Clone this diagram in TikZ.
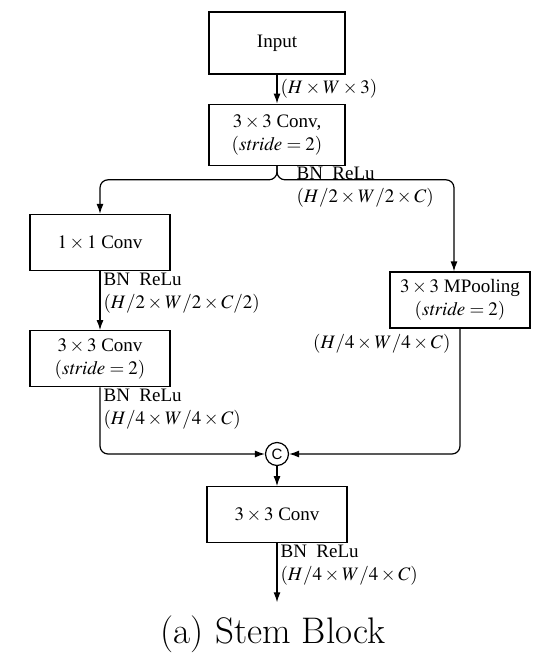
\documentclass[tikz,border=0pt]{standalone}
\usepackage{mathptmx}
\usepackage{fontspec}
\setmainfont{Liberation Serif}
\newfontfamily\capfont{Latin Modern Roman}
\newfontfamily\catfont{Liberation Sans}
\usetikzlibrary{positioning,arrows.meta}

\begin{document}
\begin{tikzpicture}[x=1pt,y=-1pt,line width=1.2pt,
  font=\fontsize{19}{23}\selectfont,
  blk/.style={draw,minimum width=140pt,minimum height=56pt,align=center,inner sep=2pt},
  lbl/.style={align=left,inner sep=1pt},
  arr/.style={-{Latex[length=10pt,width=7pt]}}]

  \useasboundingbox (0,0) rectangle (544,662);

  % main column
  \node[blk,minimum width=136pt,minimum height=62pt] (inp) at (277,43) {Input};
  \node[blk,minimum width=136pt,minimum height=61pt,below=29pt of inp] (cva) {$3\times3$ Conv,\\$(\mathit{stride}=2)$};

  % left branch
  \node[blk] (cvb) at (100,242.5) {$1\times1$ Conv};
  \node[blk,below=59pt of cvb] (cvc) {$3\times3$ Conv\\$(\mathit{stride}=2)$};

  % right branch
  \node[blk] (mpl) at (460,300) {$3\times3$ MPooling\\$(\mathit{stride}=2)$};

  % concat and last conv
  \node[draw,circle,minimum size=23pt,inner sep=0pt,font=\catfont\fontsize{15}{15}\selectfont] (cat) at (277,454) {C};
  \node[blk,below=20pt of cat] (cvd) {$3\times3$ Conv};
  \coordinate[below=59pt of cvd] (out);

  \draw[arr] (inp) -- (cva) node[midway,right=2pt,lbl] {$(H\times W\times3)$};
  \draw[arr,rounded corners=8pt] (cva.south) -- ++(0,14) -| (cvb.north);
  \draw[arr,rounded corners=8pt] (cva.south) -- ++(0,14) -| ([xshift=-6pt]mpl.north);
  \draw[arr] (cvb) -- (cvc);
  \draw[arr,rounded corners=8pt] (cvc.south) |- (cat.west);
  \draw[arr,rounded corners=8pt] (mpl.south) |- (cat.east);
  \draw[arr] (cat) -- (cvd);
  \draw[arr] (cvd) -- (out);

  % labels
  \node[lbl,anchor=north west] (lba) at ([xshift=18pt]cva.south) {BN\ \ ReLu\\$(H/2\times W/2\times C)$};
  \node[lbl,anchor=north west] (lbb) at ([xshift=2pt]cvb.south) {BN\ \ ReLu\\$(H/2\times W/2\times C/2)$};
  \node[lbl,anchor=north west] (lbc) at ([xshift=2pt]cvc.south) {BN\ \ ReLu\\$(H/4\times W/4\times C)$};
  \node[lbl,anchor=north east] (lbd) at ([xshift=-8pt,yshift=-4pt]mpl.south) {$(H/4\times W/4\times C)$};
  \node[lbl,anchor=north west] (lbe) at ([xshift=2pt]cvd.south) {BN\ \ ReLu\\$(H/4\times W/4\times C)$};

  \node[font=\capfont\fontsize{37}{44}\selectfont] (cap) at (273,634) {(a) Stem Block};
\end{tikzpicture}
\end{document}
